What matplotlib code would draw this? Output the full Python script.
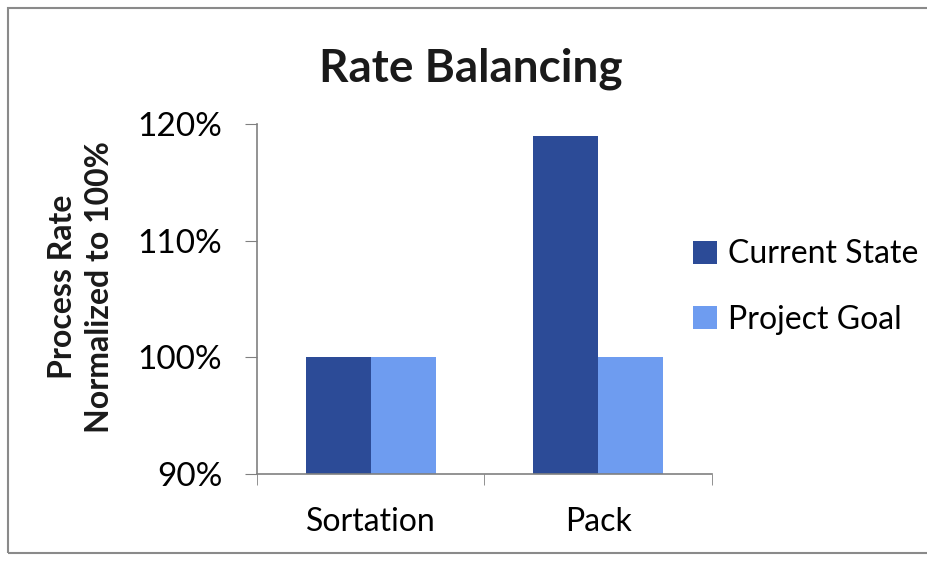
import matplotlib
matplotlib.use("Agg")
import matplotlib.pyplot as plt
from matplotlib.patches import Rectangle
from matplotlib.ticker import FixedLocator, FuncFormatter

categories = ["Sortation", "Pack"]
current_state = [100, 119]
project_goal = [100, 100]
series_names = ["Current State", "Project Goal"]
y_ticks = [90, 100, 110, 120]

plt.rcParams["font.family"] = ["Lato", "DejaVu Sans"]

fig = plt.figure(figsize=(9.28, 5.62), dpi=100)
fig.patch.set_facecolor("white")

# outer frame of the chart area (runs past the right edge)
fig.patches.append(Rectangle((0.009, 0.016), 1.2, 0.970, transform=fig.transFigure,
                             fill=False, edgecolor="#8a8a8a", linewidth=1.5))

ax = fig.add_axes([0.277, 0.1566, 0.490, 0.622])
dark = "#2C4B97"
light = "#6E9CF0"
w = 0.285
x = list(range(len(categories)))
ax.bar([i - w / 2 for i in x], current_state, width=w, color=dark, label=series_names[0])
ax.bar([i + w / 2 for i in x], project_goal, width=w, color=light, label=series_names[1])

ax.set_ylim(90, 120)
ax.set_xlim(-0.5, len(categories) - 0.5)
ax.yaxis.set_major_locator(FixedLocator(y_ticks))
ax.yaxis.set_major_formatter(FuncFormatter(lambda v, p: f"{v:.0f}%"))
ax.set_xticks(x)
ax.set_xticklabels(categories, fontsize=23)
ax.xaxis.set_minor_locator(FixedLocator([i - 0.5 for i in range(len(categories) + 1)]))
ax.tick_params(axis="x", which="major", length=0, pad=24)
ax.tick_params(axis="x", which="minor", length=8, direction="out", color="#808080")
ax.tick_params(axis="y", length=9, direction="out", color="#808080", labelsize=24, pad=16)

for s in ["top", "right"]:
    ax.spines[s].set_visible(False)
for s in ["left", "bottom"]:
    ax.spines[s].set_color("#808080")
    ax.spines[s].set_linewidth(1.2)

fig.text(0.507, 0.878, "Rate Balancing", ha="center", va="center",
         fontsize=33, fontweight="bold", color="#1a1a1a")
fig.text(0.087, 0.49, "Process Rate\nNormalized to 100%", ha="center", va="center",
         rotation=90, fontsize=23, fontweight="bold", color="#1a1a1a", linespacing=1.35)

leg = ax.legend(loc="center left", bbox_to_anchor=(0.895, 0.535), frameon=False,
                fontsize=23, handlelength=0.75, handleheight=0.75, handletextpad=0.35,
                labelspacing=1.1)

fig.savefig("out.png", dpi=100, facecolor="white")
